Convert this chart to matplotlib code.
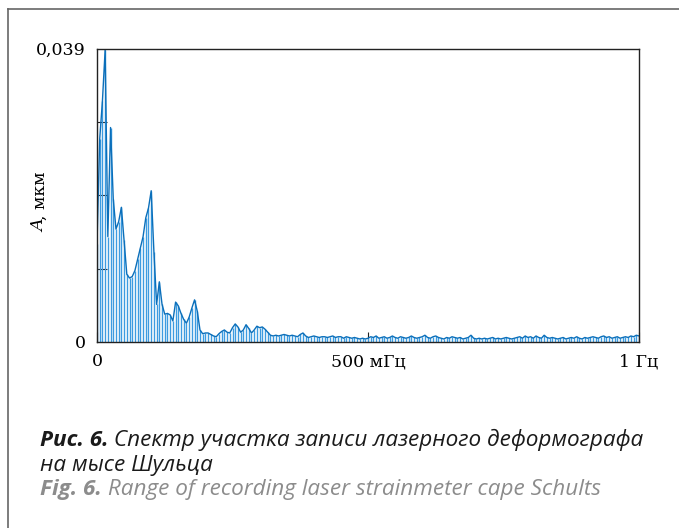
import matplotlib
matplotlib.use("Agg")
import matplotlib.pyplot as plt
from matplotlib.lines import Line2D

# spectrum amplitudes (µm), one value every 5 mHz from 0 to 1000 mHz
amp_low = [0.0130, 0.0270, 0.0320, 0.0388, 0.0140, 0.0285, 0.0190, 0.0150, 0.0160, 0.0179,
           0.0135, 0.0090, 0.0085, 0.0087, 0.0095, 0.0110, 0.0125, 0.0140, 0.0165, 0.0178,
           0.0201, 0.0120, 0.0050, 0.0080, 0.0050, 0.0037, 0.0038, 0.0036, 0.0028, 0.0053,
           0.0048, 0.0038, 0.0030, 0.0025, 0.0033, 0.0045, 0.0056, 0.0041, 0.0016, 0.0011,
           0.0012, 0.0012, 0.0010, 0.0008, 0.0007, 0.0011, 0.0014, 0.0016, 0.0013, 0.0012,
           0.0019, 0.0024, 0.0020, 0.0013, 0.0016, 0.0023, 0.0018, 0.0012, 0.0016, 0.0021,
           0.0019, 0.0020, 0.0017, 0.0013, 0.0009, 0.0008, 0.0009, 0.0008, 0.0009, 0.0010,
           0.0009, 0.0008, 0.0009, 0.0008, 0.0007, 0.0010, 0.0012, 0.0008, 0.0006, 0.0007,
           0.0008, 0.0007, 0.0006, 0.0007, 0.0007, 0.0006, 0.0007, 0.0008, 0.0006, 0.0007,
           0.0007, 0.0005, 0.0007, 0.0006, 0.0005, 0.0006, 0.0005, 0.0004, 0.0005, 0.0004]
amp_high = [0.0005, 0.0007, 0.0006, 0.0008, 0.0005, 0.0006, 0.0007, 0.0005, 0.0006, 0.0008,
            0.0006, 0.0005, 0.0007, 0.0006, 0.0005, 0.0006, 0.0008, 0.0006, 0.0005, 0.0006,
            0.0007, 0.0009, 0.0006, 0.0005, 0.0007, 0.0008, 0.0006, 0.0005, 0.0004, 0.0006,
            0.0005, 0.0007, 0.0006, 0.0005, 0.0006, 0.0004, 0.0005, 0.0006, 0.0009, 0.0005,
            0.0004, 0.0005, 0.0004, 0.0005, 0.0004, 0.0005, 0.0006, 0.0004, 0.0005, 0.0004,
            0.0005, 0.0006, 0.0005, 0.0004, 0.0005, 0.0006, 0.0007, 0.0005, 0.0008, 0.0006,
            0.0007, 0.0005, 0.0008, 0.0006, 0.0005, 0.0009, 0.0006, 0.0005, 0.0006, 0.0005,
            0.0004, 0.0005, 0.0006, 0.0004, 0.0005, 0.0006, 0.0005, 0.0007, 0.0005, 0.0004,
            0.0006, 0.0005, 0.0006, 0.0007, 0.0006, 0.0005, 0.0007, 0.0008, 0.0006, 0.0007,
            0.0005, 0.0006, 0.0007, 0.0005, 0.0006, 0.0007, 0.0006, 0.0008, 0.0007, 0.0009,
            0.0008]
amplitude = amp_low + amp_high
freq_step_mhz = 5
freq = [i * freq_step_mhz for i in range(len(amplitude))]

y_max = 0.039
x_tick_vals = [0, 500, 1000]
x_tick_labels = ["0", "500 мГц", "1 Гц"]
y_tick_labels = ["0", "0,039"]
y_label_sym = "A"
y_label_unit = ", мкм"
caption_ru_bold = "Рис. 6."
caption_ru_1 = " Спектр участка записи лазерного деформографа"
caption_ru_2 = "на мысе Шульца"
caption_en_bold = "Fig. 6."
caption_en = " Range of recording laser strainmeter cape Schults"

W, H = 679, 528
fig = plt.figure(figsize=(W / 100, H / 100), dpi=100)

# outer frame (top and left rules)
fig.add_artist(Line2D([8 / W, 1.0], [1 - 9 / H, 1 - 9 / H], color="#666666", lw=1.2,
                      transform=fig.transFigure))
fig.add_artist(Line2D([8 / W, 8 / W], [0, 1 - 9 / H], color="#666666", lw=1.2,
                      transform=fig.transFigure))

ax = fig.add_axes([97 / W, 1 - 342 / H, (639 - 97) / W, (342 - 48.5) / H])
ax.vlines(freq, 0, amplitude, color="#3c9be0", lw=1.0)
ax.plot(freq, amplitude, color="#0b6fba", lw=1.0)
ax.set_xlim(0, 1000)
ax.set_ylim(0, y_max)

for s in ax.spines.values():
    s.set_color("#222222")
    s.set_linewidth(1.0)

serif = ["DejaVu Serif"]
tick_size = 12.5
ax.set_xticks(x_tick_vals)
ax.set_xticklabels(x_tick_labels, fontfamily=serif, fontsize=tick_size)
ax.set_yticks([0, y_max])
ax.set_yticklabels(y_tick_labels, fontfamily=serif, fontsize=tick_size)
ax.set_yticks([y_max * 0.25, y_max * 0.5, y_max * 0.75], minor=True)
ax.tick_params(axis="x", direction="in", length=7, width=0.8, pad=8, color="#222222")
ax.tick_params(axis="y", which="major", direction="in", length=0, pad=8)
ax.tick_params(axis="y", which="minor", direction="in", length=7, width=0.8, color="#222222")

# y label: italic symbol + upright unit, read bottom to top
ta = fig.text(40 / W, 1 - 232 / H, y_label_sym, fontfamily=serif, fontstyle="italic",
              fontsize=tick_size, rotation=90, ha="center", va="bottom")
fig.canvas.draw()
ba = ta.get_window_extent()
fig.text(40 / W, ba.y1 / H, y_label_unit, fontfamily=serif, fontsize=tick_size,
         rotation=90, ha="center", va="bottom")

cap_font = ["Open Sans", "DejaVu Sans"]
cap_size = 16.2
t1 = fig.text(40 / W, 1 - 440 / H, caption_ru_bold, fontfamily=cap_font, fontsize=cap_size,
              fontweight="bold", fontstyle="italic", color="#1a1a1a", va="center")
fig.canvas.draw()
bb = t1.get_window_extent()
fig.text(bb.x1 / W, 1 - 440 / H, caption_ru_1, fontfamily=cap_font, fontsize=cap_size,
         fontstyle="italic", color="#1a1a1a", va="center")
fig.text(40 / W, 1 - 465 / H, caption_ru_2, fontfamily=cap_font, fontsize=cap_size,
         fontstyle="italic", color="#1a1a1a", va="center")
t2 = fig.text(40 / W, 1 - 490 / H, caption_en_bold, fontfamily=cap_font, fontsize=cap_size,
              fontweight="bold", fontstyle="italic", color="#8c8c8c", va="center")
fig.canvas.draw()
bb2 = t2.get_window_extent()
fig.text(bb2.x1 / W, 1 - 490 / H, caption_en, fontfamily=cap_font, fontsize=cap_size,
         fontstyle="italic", color="#8c8c8c", va="center")

fig.savefig("out.png", dpi=100)
